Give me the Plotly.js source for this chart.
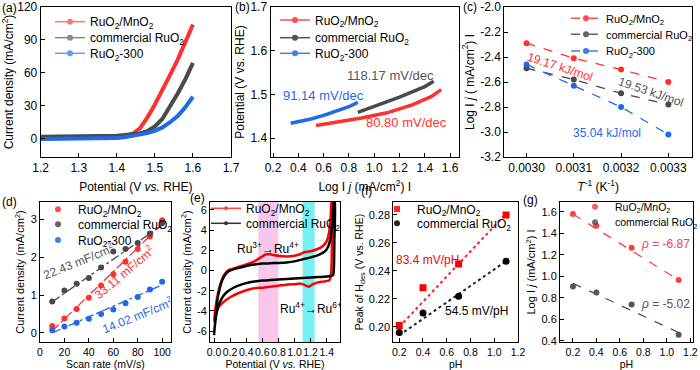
<!DOCTYPE html>
<html><head><meta charset="utf-8">
<script src="https://cdn.plot.ly/plotly-3.0.1.min.js"></script>
<style>html,body{margin:0;padding:0;background:#fff}#chart{width:700px;height:370px}</style>
</head><body><div id="chart"></div>
<script>
// ---------- DATA ----------
// (a) LSV
const aPot   = [1.20,1.25,1.30,1.35,1.40,1.42,1.44,1.46,1.48,1.50,1.52,1.54,1.56,1.58,1.60];
const aRuMn  = [0.5,0.6,0.8,1.0,1.5,2.2,3.8,9,19,31,44,58,72,88,104];
const aComm  = [1.5,1.6,1.8,2.1,2.5,3.0,3.5,4.5,6.5,11,18,29,41,54,69];
const aR300  = [-0.5,-0.5,-0.4,-0.3,0.3,1,2,3.2,4.8,6.8,10,14.8,20.5,28.5,38];
// (b) Tafel
const bRuMnX = [0.54,0.70,0.90,1.10,1.30,1.45,1.53];
const bRuMnY = [1.429,1.436,1.446,1.458,1.476,1.495,1.511];
const bCommX = [0.87,1.00,1.20,1.40,1.47];
const bCommY = [1.459,1.472,1.494,1.518,1.530];
const bR300X = [0.34,0.40,0.50,0.60,0.70,0.80,0.87];
const bR300Y = [1.434,1.437,1.444,1.452,1.461,1.472,1.482];
const bLabels = ['118.17 mV/dec','91.14 mV/dec','80.80 mV/dec'];
// (c) Arrhenius
const cInvT  = [0.0030,0.0031,0.0032,0.0033];
const cRuMn  = [-2.29,-2.41,-2.50,-2.60];
const cComm  = [-2.49,-2.58,-2.69,-2.78];
const cR300  = [-2.46,-2.63,-2.80,-3.02];
const cLabels = ['19.17 kJ/mol','19.53 kJ/mol','35.04 kJ/mol'];
const cTickVals = [-3.2,-3.0,-2.8,-2.6,-2.4,-2.2,-2.0];
const cTickText = ['-3.2','-3.0','-2.8','-2.6','-2.4','-2.2','-2.0'];
// (d) Cdl
const dRate  = [10,20,30,40,50,60,70,80,90,100];
const dRuMn  = [0.18,0.38,0.63,0.93,1.25,1.55,1.88,2.22,2.55,2.98];
const dComm  = [0.83,1.12,1.30,1.45,1.73,2.15,2.22,2.38,2.63,2.90];
const dR300  = [0.07,0.17,0.27,0.37,0.50,0.62,0.78,0.95,1.15,1.35];
const dFitX  = [10,100];
const dFitRuMn = [0.05,2.88];
const dFitComm = [0.82,2.85];
const dFitR300 = [0.00,1.27];
const dLabels = ['22.43 mF/cm<sup>2</sup>','33.11 mF/cm<sup>2</sup>','14.02 mF/cm<sup>2</sup>'];
// (e) CV
const eRuMnX = [0.00,0.02,0.05,0.08,0.12,0.16,0.20,0.30,0.40,0.50,0.58,0.65,0.70,0.75,0.85,0.95,1.05,1.12,1.20,1.28,1.35,1.40,1.43,1.45,1.46,
                1.47,1.465,1.46,1.45,1.43,1.35,1.28,1.22,1.18,1.14,1.08,1.00,0.90,0.80,0.70,0.60,0.50,0.40,0.30,0.20,0.12,0.06,0.02,0.00];
const eRuMnY = [-5.0,-3.6,-2.2,-1.3,-0.5,-0.1,0.1,0.35,0.6,0.9,1.3,1.6,1.6,1.5,1.4,1.4,1.55,1.8,1.9,2.1,2.4,2.9,3.8,5.5,6.8,
                6.8,3.0,0.5,-0.6,-1.0,-1.1,-1.2,-1.4,-1.6,-1.5,-1.3,-1.35,-1.4,-1.5,-1.6,-1.7,-1.75,-1.95,-2.25,-2.65,-3.1,-3.6,-4.3,-5.0];
const eCommX = [0.00,0.02,0.04,0.07,0.10,0.15,0.20,0.30,0.40,0.50,0.60,0.70,0.80,0.90,1.00,1.10,1.20,1.30,1.38,1.42,1.45,1.47,1.49,
                1.50,1.495,1.49,1.48,1.45,1.40,1.30,1.20,1.10,1.00,0.90,0.80,0.70,0.60,0.50,0.40,0.30,0.20,0.15,0.10,0.06,0.03,0.00];
const eCommY = [-6.4,-4.5,-3.0,-1.8,-1.0,-0.3,0.0,0.25,0.45,0.6,0.68,0.72,0.75,0.8,0.9,1.1,1.3,1.55,1.9,2.4,3.3,4.8,6.8,
                6.8,3.0,0.5,-0.45,-0.55,-0.6,-0.65,-0.7,-0.75,-0.8,-0.85,-0.9,-0.95,-1.0,-1.1,-1.25,-1.5,-1.9,-2.2,-2.7,-3.4,-4.3,-6.2];
const eBandPink = [0.55,0.80];
const eBandCyan = [1.10,1.25];
const eTickVals = [-6,-4,-2,0,2,4,6];
const eTickText = ['-6','-4','-2','0','2','4','6'];
// (f) Hdes peak vs pH
const fPH    = [0.2,0.4,0.7,1.1];
const fRuMn  = [0.201,0.228,0.245,0.280];
const fComm  = [0.196,0.210,0.222,0.247];
const fFitX  = [0.2,1.1];
const fFitRuMn = [0.200,0.281];
const fFitComm = [0.194,0.247];
// (g) log j vs pH
const gPH    = [0.2,0.4,0.7,1.1];
const gRuMn  = [1.58,1.47,1.265,0.965];
const gComm  = [0.905,0.85,0.737,0.455];
const gFitRuMn = [1.58,0.965];
const gFitComm = [0.935,0.476];
const gFitX  = [0.2,1.1];

const names = ['RuO<sub>2</sub>/MnO<sub>2</sub>','commercial RuO<sub>2</sub>','RuO<sub>2</sub>-300'];

// ---------- STYLE ----------
const RED='#ff3030', GRAY='#4a4a4a', BLUE='#1f6ae6';
const FONT='Liberation Sans, Arial, sans-serif';
const W=700,H=370;
const PX=x=>x/W, PY=y=>1-y/H;

function ax(extra,fs){
  fs=fs||12;
  return Object.assign({showline:true,mirror:true,linecolor:'#000',linewidth:1,ticks:'inside',ticklen:4,
    tickcolor:'#000',showgrid:false,zeroline:false,tickangle:0,fixedrange:true,automargin:false,
    tickfont:{size:fs,color:'#000'}},extra);
}
function ttl(t,fs,st){return {text:t,font:{size:fs||12,color:'#000'},standoff:st===undefined?3:st};}
const BF=10.5; // bottom-row font size

const traces=[];
const legendLayouts={};
let legN=0;
function line(x,y,xa,ya,color,w,dash){traces.push({x:x,y:y,xaxis:xa,yaxis:ya,mode:'lines',line:{color:color,width:w,dash:dash||'solid',shape:'linear'},showlegend:false,hoverinfo:'skip'});}
function pts(x,y,xa,ya,color,size,sym){traces.push({x:x,y:y,xaxis:xa,yaxis:ya,mode:'markers',marker:{color:color,size:size,symbol:sym||'circle'},showlegend:false,hoverinfo:'skip'});}
// one legend per entry, so entries can sit as close as in the reference
function leg(name,xa,ya,color,mode,pos,sym,dash,size,fs){
  legN++;
  const id = legN===1?'legend':'legend'+legN;
  legendLayouts[id]={x:PX(pos[0]),y:PY(pos[1]),xanchor:'left',yanchor:'middle',bgcolor:'rgba(0,0,0,0)',borderwidth:0,
    font:{size:fs||12,color:'#000',family:FONT},tracegroupgap:0,itemwidth:30};
  traces.push({x:[null],y:[null],xaxis:xa,yaxis:ya,name:name,legend:id,mode:mode,
    line:{color:color,width:1.5,dash:dash||'solid'},marker:{color:color,size:size||6,symbol:sym||'circle'},opacity:0.85});
}

// (a)
line(aPot,aRuMn,'x','y',RED,4); line(aPot,aComm,'x','y',GRAY,4); line(aPot,aR300,'x','y',BLUE,4);
leg(names[0],'x','y','#ff6060','lines+markers',[50,21.7]);
leg(names[1],'x','y','#777','lines+markers',[50,37.7]);
leg(names[2],'x','y','#4a8cf0','lines+markers',[50,53.3]);
// (b)
line(bRuMnX,bRuMnY,'x2','y2',RED,3.5); line(bCommX,bCommY,'x2','y2',GRAY,3.5); line(bR300X,bR300Y,'x2','y2',BLUE,3.5);
leg(names[0],'x2','y2',RED,'lines+markers',[275,20]);
leg(names[1],'x2','y2','#333','lines+markers',[275,37.7]);
leg(names[2],'x2','y2',BLUE,'lines+markers',[275,53.3]);
// (c)
traces.push({x:cInvT,y:cRuMn,xaxis:'x3',yaxis:'y3',mode:'lines+markers',line:{color:RED,width:1.3,dash:'dash'},marker:{color:RED,size:6},showlegend:false});
traces.push({x:cInvT,y:cComm,xaxis:'x3',yaxis:'y3',mode:'lines+markers',line:{color:GRAY,width:1.3,dash:'dash'},marker:{color:GRAY,size:6},showlegend:false});
traces.push({x:cInvT,y:cR300,xaxis:'x3',yaxis:'y3',mode:'lines+markers',line:{color:BLUE,width:1.3,dash:'dash'},marker:{color:BLUE,size:6},showlegend:false});
leg(names[0],'x3','y3',RED,'lines+markers',[566,18.3],'circle','dash',6,11);
leg(names[1],'x3','y3',GRAY,'lines+markers',[566,34.3],'circle','dash',6,11);
leg(names[2],'x3','y3',BLUE,'lines+markers',[566,51],'circle','dash',6,11);
// (d)
line(dFitX,dFitRuMn,'x4','y4',RED,1.3,'dashdot'); line(dFitX,dFitComm,'x4','y4',GRAY,1.3,'dashdot'); line(dFitX,dFitR300,'x4','y4',BLUE,1.3,'dashdot');
pts(dRate,dRuMn,'x4','y4',RED,6); pts(dRate,dComm,'x4','y4',GRAY,6); pts(dRate,dR300,'x4','y4',BLUE,6);
leg(names[0],'x4','y4',RED,'markers',[38,209.3]);
leg(names[1],'x4','y4',GRAY,'markers',[38,224.3]);
leg(names[2],'x4','y4',BLUE,'markers',[38,240]);
// (e)
traces.push({x:eRuMnX,y:eRuMnY,xaxis:'x5',yaxis:'y5',mode:'lines',line:{color:'#ff0000',width:2.5,shape:'spline',smoothing:0.6},showlegend:false});
traces.push({x:eCommX,y:eCommY,xaxis:'x5',yaxis:'y5',mode:'lines',line:{color:'#000',width:2.5,shape:'spline',smoothing:0.6},showlegend:false});
leg(names[0],'x5','y5','#ff2020','lines+markers',[206,208.3],'circle','solid',4);
leg(names[1],'x5','y5','#111','lines+markers',[206,223.3],'circle','solid',4);
// (f)
line(fFitX,fFitRuMn,'x6','y6','#ff2020',2,'dot'); line(fFitX,fFitComm,'x6','y6','#222',2,'dot');
pts(fPH,fRuMn,'x6','y6','#ff0000',7,'square'); pts(fPH,fComm,'x6','y6','#000',7,'circle');
leg(names[0],'x6','y6','#ff0000','markers',[377,209],'square');
leg(names[1],'x6','y6','#000','markers',[377,223.3],'circle');
// (g)
line(gFitX,gFitRuMn,'x7','y7','#ff4040',1.3,'dash'); line(gFitX,gFitComm,'x7','y7','#555',1.3,'dash');
pts(gPH,gRuMn,'x7','y7','#ff4040',6); pts(gPH,gComm,'x7','y7','#555',6);
leg(names[0],'x7','y7','#ff4040','markers',[575,206.7],'circle','solid',6,10.5);
leg(names[1],'x7','y7','#555','markers',[575,222.3],'circle','solid',6,10.5);

// ---------- LAYOUT ----------
const topDom=[PY(157),PY(7)], botDom=[PY(342.3),PY(201.7)];
function note(text,px,py,color,size,angle,xanchor){return {text:text,x:PX(px),y:PY(py),xref:'paper',yref:'paper',showarrow:false,
  font:{size:size||12,color:color||'#000',family:FONT},textangle:angle||0,xanchor:xanchor||'center',yanchor:'middle'};}

const layout=Object.assign({
  width:W,height:H,margin:{l:0,r:0,t:0,b:0,autoexpand:false},paper_bgcolor:'#fff',plot_bgcolor:'#fff',
  font:{family:FONT,color:'#000'},showlegend:true,
  xaxis: ax({domain:[PX(40.7),PX(231)],range:[1.2,1.7],tick0:1.2,dtick:0.1,tickformat:'.1f',anchor:'y',title:ttl('Potential (V <i>vs.</i> RHE)',12,8)}),
  yaxis: ax({domain:topDom,range:[-17,120],tick0:0,dtick:30,anchor:'x',title:ttl('Current density (mA/cm<sup>2</sup>)')}),
  xaxis2:ax({domain:[PX(270.5),PX(459)],range:[0.18,1.67],tick0:0.2,dtick:0.2,tickformat:'.1f',anchor:'y2',title:ttl('Log I <i>j</i> (mA/cm<sup>2</sup>) I',12,8)}),
  yaxis2:ax({domain:topDom,range:[1.357,1.7],tick0:1.4,dtick:0.1,tickformat:'.1f',anchor:'x2',title:ttl('Potential (V vs. RHE)')}),
  xaxis3:ax({domain:[PX(504.3),PX(692)],range:[0.002953,0.00335],tick0:0.003,dtick:0.0001,tickformat:'.4f',anchor:'y3',title:ttl('<i>T</i><sup>-1</sup> (K<sup>-1</sup>)',12,8)}),
  yaxis3:ax({domain:topDom,range:[-3.2,-2.0],tickmode:'array',tickvals:cTickVals,ticktext:cTickText,anchor:'x3',title:ttl('Log I <i>j</i> ( mA/cm<sup>2</sup>) I')}),
  xaxis4:ax({domain:[PX(40),PX(170.7)],range:[0,107],tick0:0,dtick:20,anchor:'y4',title:ttl('Scan rate (mV/s)',BF,2)},BF),
  yaxis4:ax({domain:botDom,range:[-0.25,3.47],tick0:0,dtick:1,anchor:'x4',title:ttl('Current density (mA/cm<sup>2</sup>)',11)},BF+0.5),
  xaxis5:ax({domain:[PX(210),PX(340)],range:[-0.05,1.565],tick0:0,dtick:0.2,tickformat:'.1f',anchor:'y5',title:ttl('Potential (V <i>vs.</i> RHE)',BF,2)},BF),
  yaxis5:ax({domain:botDom,range:[-7.1,6.8],tickmode:'array',tickvals:eTickVals,ticktext:eTickText,anchor:'x5',title:ttl('Current density (mA/cm<sup>2</sup>)',11)},BF+0.5),
  xaxis6:ax({domain:[PX(393.3),PX(518)],range:[0.15,1.2],tick0:0.2,dtick:0.2,tickformat:'.1f',anchor:'y6',title:ttl('pH',BF,2)},BF),
  yaxis6:ax({domain:botDom,range:[0.189,0.2895],tick0:0.2,dtick:0.02,tickformat:'.2f',anchor:'x6',title:ttl('Peak of H<sub>des</sub> (V vs. RHE)',10.5)},BF+0.5),
  xaxis7:ax({domain:[PX(560),PX(692.7)],range:[0.09,1.22],tick0:0.2,dtick:0.2,tickformat:'.1f',anchor:'y7',title:ttl('pH',BF,2)},BF),
  yaxis7:ax({domain:botDom,range:[0.385,1.695],tick0:0.4,dtick:0.2,tickformat:'.1f',anchor:'x7',title:ttl('Log I <i>j</i> (mA/cm<sup>2</sup>) I',11)},BF+0.5),
  shapes:[
    {type:'rect',xref:'x5',yref:'y5 domain',x0:eBandPink[0],x1:eBandPink[1],y0:0,y1:1,fillcolor:'#f8c8ec',line:{width:0},layer:'below'},
    {type:'rect',xref:'x5',yref:'y5 domain',x0:eBandCyan[0],x1:eBandCyan[1],y0:0,y1:1,fillcolor:'#76f0f0',line:{width:0},layer:'below'}
  ],
  annotations:[
    note('(a)',0,8,'#000',12,0,'left'), note('(b)',233,7,'#000',12,0,'left'), note('(c)',461,7,'#000',12,0,'left'),
    note('(d)',0,202,'#000',12,0,'left'), note('(e)',188,198,'#000',12,0,'left'), note('(f)',359,191,'#000',12,0,'left'),
    note('(g)',521,200,'#000',12,0,'left'),
    note(bLabels[0],390,75,'#555',13), note(bLabels[1],323,95,BLUE,13), note(bLabels[2],406,123,RED,13),
    note(cLabels[0],560,67,RED,12,18), note(cLabels[1],651,92,'#555',12,19), note(cLabels[2],607,133,BLUE,12),
    note(dLabels[0],78,261,'#555',12,-22), note(dLabels[1],124,272,RED,12,-40), note(dLabels[2],137,315,BLUE,12,-22),
    note('Ru<sup>3+</sup>→Ru<sup>4+</sup>',268,248,'#000',12), note('Ru<sup>4+</sup>→Ru<sup>6+</sup>',311,308,'#000',12),
    note('83.4 mV/pH',427,260,'#ff0000',12), note('54.5 mV/pH',477,311,'#000',12),
    note('<i>ρ</i> = -6.87',665,244,'#ff4040',12), note('<i>ρ</i> = -5.02',665,304,'#555',12)
  ]
}, legendLayouts);
Plotly.newPlot('chart',traces,layout,{staticPlot:true,displayModeBar:false});
</script></body></html>
